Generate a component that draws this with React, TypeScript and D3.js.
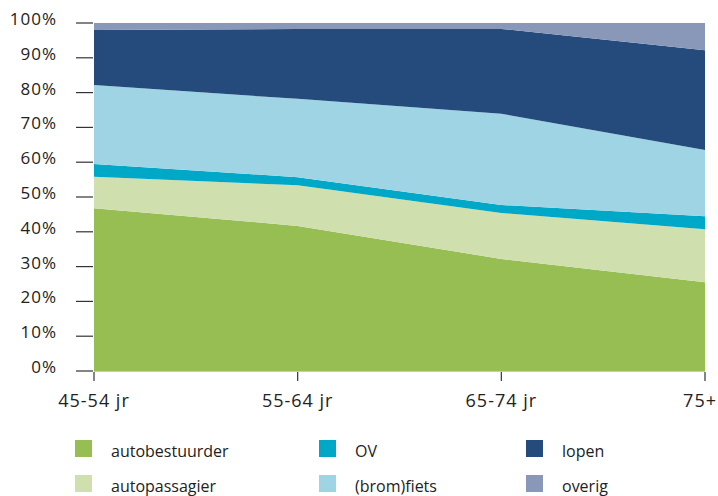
import React, { useEffect, useRef } from 'react';
import * as d3 from 'd3';

// age groups on the x axis
const ageGroups = ['45-54 jr', '55-64 jr', '65-74 jr', '75+'];

// share (%) per mode of transport, per age group
const autobestuurder = [46.8, 41.7, 32.2, 25.5];
const autopassagier = [9.0, 11.7, 13.2, 15.2];
const ov = [3.7, 2.3, 2.3, 3.8];
const bromfiets = [22.7, 22.5, 26.2, 19.0];
const lopen = [15.8, 20.1, 24.4, 28.7];
const overig = [2.0, 1.7, 1.7, 7.8];

const seriesNames = ['autobestuurder', 'autopassagier', 'OV', '(brom)fiets', 'lopen', 'overig'];
const seriesValues = [autobestuurder, autopassagier, ov, bromfiets, lopen, overig];
const seriesColors = ['#97be52', '#cfdfae', '#00a8c8', '#9ed4e3', '#254a7c', '#8997b9'];

const yTicks = [0, 10, 20, 30, 40, 50, 60, 70, 80, 90, 100];

const App = () => {
  const svgRef = useRef<SVGSVGElement | null>(null);

  useEffect(() => {
    if (!svgRef.current) return;
    const svg = d3.select(svgRef.current);
    svg.selectAll('*').remove();

    const font = "'Open Sans', sans-serif";
    const W = 718;

    const x = d3.scalePoint<string>().domain(ageGroups).range([94, 705]);
    const y = d3.scaleLinear().domain([0, 100]).range([371, 23]);

    // rows for the stack
    const rows = ageGroups.map((g, i) => {
      const row: any = { group: g };
      seriesNames.forEach((n, s) => { row[n] = seriesValues[s][i]; });
      return row;
    });
    const stacked = d3.stack<any>().keys(seriesNames)(rows);

    const area = d3.area<any>()
      .x(d => x(d.data.group) as number)
      .y0(d => y(d[0]))
      .y1(d => y(d[1]))
      .curve(d3.curveLinear);

    svg.append('g')
      .selectAll('path')
      .data(stacked)
      .join('path')
      .attr('fill', (_d, i) => seriesColors[i])
      .attr('d', area as any);

    // light base line
    svg.append('line')
      .attr('x1', x(ageGroups[0]) as number)
      .attr('x2', x(ageGroups[ageGroups.length - 1]) as number)
      .attr('y1', y(0) + 0.5)
      .attr('y2', y(0) + 0.5)
      .attr('stroke', '#a8d6e2')
      .attr('stroke-width', 1);

    // y axis ticks + labels
    const yAxis = svg.append('g');
    yTicks.forEach(t => {
      yAxis.append('line')
        .attr('x1', 76).attr('x2', 93)
        .attr('y1', y(t)).attr('y2', y(t))
        .attr('stroke', '#333').attr('stroke-width', 1.2);
      yAxis.append('text')
        .attr('x', 57)
        .attr('y', y(t) + 2)
        .attr('text-anchor', 'end')
        .attr('font-family', font)
        .attr('font-size', 17)
        .attr('letter-spacing', 1)
        .attr('fill', '#222')
        .text(`${t}%`);
    });

    // x axis ticks + labels
    const xAxis = svg.append('g');
    ageGroups.forEach(g => {
      const px = x(g) as number;
      xAxis.append('line')
        .attr('x1', px).attr('x2', px)
        .attr('y1', 372).attr('y2', 381)
        .attr('stroke', '#333').attr('stroke-width', 1.2);
      const label = xAxis.append('text')
        .attr('x', px)
        .attr('y', 407)
        .attr('text-anchor', 'middle')
        .attr('font-family', font)
        .attr('font-size', 18)
        .attr('letter-spacing', 1)
        .attr('fill', '#222')
        .text(g);
      // keep the last label inside the picture
      const box = (label.node() as SVGTextElement).getBBox();
      if (box.x + box.width > W - 1) {
        label.attr('text-anchor', 'end').attr('x', W - 1);
      }
    });

    // legend: 3 columns, 2 rows
    const legendCols = [75, 319, 526];
    const legendRows = [440, 475];
    const legend = svg.append('g');
    seriesNames.forEach((n, i) => {
      const col = Math.floor(i / 2);
      const row = i % 2;
      legend.append('rect')
        .attr('x', legendCols[col])
        .attr('y', legendRows[row])
        .attr('width', 17)
        .attr('height', 17)
        .attr('fill', seriesColors[i]);
      legend.append('text')
        .attr('x', legendCols[col] + 36)
        .attr('y', legendRows[row] + 17)
        .attr('font-family', font)
        .attr('font-size', 16)
        .attr('fill', '#222')
        .text(n);
    });
  }, []);

  return (
    <div style={{ position: 'absolute', left: 0, top: 0 }}>
      <svg ref={svgRef} width={718} height={496}></svg>
    </div>
  );
};

export default App;
